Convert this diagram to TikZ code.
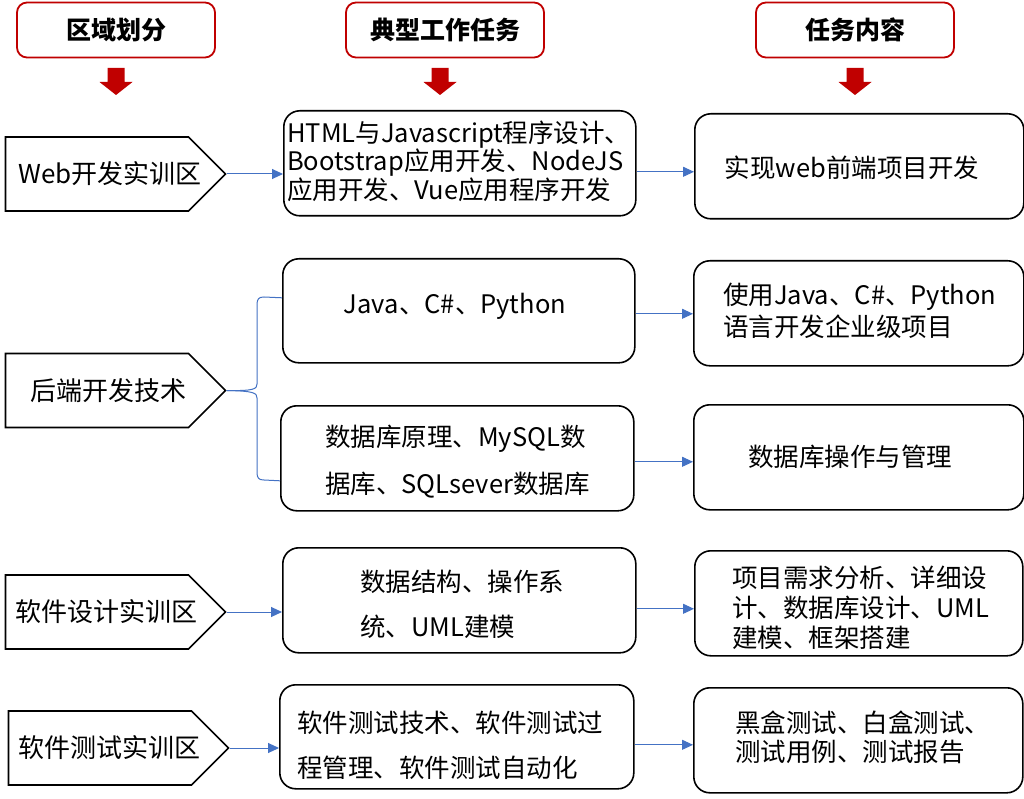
\documentclass[tikz,border=0pt]{standalone}
\usepackage{fontspec}
\setmainfont{Noto Sans CJK SC}
\usetikzlibrary{arrows.meta,shapes.symbols,calc}
\definecolor{hdred}{HTML}{C00000}
\definecolor{lnblue}{HTML}{4472C4}
\begin{document}
\begin{tikzpicture}[x=1pt,y=-1pt,
 hdr/.style={draw=hdred, line width=1.8pt, rounded corners=10pt, fill=white, minimum width=198pt, minimum height=55pt, inner sep=0pt, font=\fontsize{25}{28}\selectfont\bfseries},
 pent/.style={draw, line width=1.6pt, signal, signal to=east, signal pointer angle=90, minimum width=220pt, minimum height=74pt, inner sep=0pt},
 lbl/.style={font=\fontsize{26}{30}\selectfont, inner sep=0pt},
 box/.style={draw, line width=1.6pt, rounded corners=16pt, inner sep=0pt, anchor=north west},
 txt/.style={font=\fontsize{25.5}{29}\selectfont, inner sep=0pt, anchor=west, align=left},
 ctxt/.style={font=\fontsize{25.5}{29}\selectfont, inner sep=0pt, anchor=center, align=center},
 arr/.style={draw=lnblue, line width=1pt, -{Triangle[length=11pt,width=10pt]}},
 brace/.style={draw=lnblue, line width=1pt}
]
\useasboundingbox (0,0) rectangle (1024,799);
\fill[white] (0,0) rectangle (1024,799);

% headers
\node[hdr] (h1) at (116,30) {区域划分};
\node[hdr] (h2) at (445,30) {典型工作任务};
\node[hdr] (h3) at (855,30) {任务内容};
\foreach \cx in {116,440,855}{
  \fill[hdred] ({\cx-8.5},68) -- ({\cx+8.5},68) -- ({\cx+8.5},82) -- ({\cx+16.5},82) -- (\cx,95) -- ({\cx-16.5},82) -- ({\cx-8.5},82) -- cycle;
}

% left pentagons
\node[pent, label={[lbl, xshift=13pt]center:Web开发实训区}] (p1) at (97,174) {};
\node[pent, label={[lbl, xshift=11pt]center:后端开发技术}] (p2) at (97,390.5) {};
\node[pent, label={[lbl, xshift=9pt]center:软件设计实训区}] (p3) at (97,612) {};
\node[pent, label={[lbl, xshift=9pt]center:软件测试实训区}] (p4) at (100,748) {};

% middle boxes
\node[box, minimum width=352pt, minimum height=105pt] (m1) at (283,110) {};
\node[box, minimum width=352pt, minimum height=104pt] (m2) at (282,258) {};
\node[box, minimum width=353pt, minimum height=105pt] (m3) at (280,405) {};
\node[box, minimum width=353pt, minimum height=105pt] (m4) at (282,547) {};
\node[box, minimum width=354pt, minimum height=104pt] (m5) at (279,684) {};

\node[txt, font=\fontsize{25.5}{28.5}\selectfont] (m1t) at (287,161) {HTML与Javascript程序设计、\\Bootstrap应用开发、NodeJS\\应用开发、Vue应用程序开发};
\node[ctxt] (m2t) at (455,306) {Java、C\#、Python};
\node[txt, font=\fontsize{25.5}{47}\selectfont] (m3t) at (325,461.5) {数据库原理、MySQL数\\据库、SQLsever数据库};
\node[txt, font=\fontsize{25.5}{45}\selectfont] (m4t) at (360,604.5) {数据结构、操作系\\统、UML建模};
\node[txt, font=\fontsize{25.5}{45}\selectfont] (m5t) at (297,745.5) {软件测试技术、软件测试过\\程管理、软件测试自动化};

% right boxes
\node[box, minimum width=329pt, minimum height=105pt] (r1) at (694,113) {};
\node[box, minimum width=330pt, minimum height=105pt] (r2) at (693,260) {};
\node[box, minimum width=330pt, minimum height=105pt] (r3) at (693,404) {};
\node[box, minimum width=328pt, minimum height=105pt] (r4) at (694,550) {};
\node[box, minimum width=329pt, minimum height=105pt] (r5) at (693,687) {};

\node[ctxt] (r1t) at (852,168) {实现web前端项目开发};
\node[txt, font=\fontsize{25.5}{32}\selectfont] (r2t) at (723,311) {使用Java、C\#、Python\\语言开发企业级项目};
\node[ctxt] (r3t) at (850,457) {数据库操作与管理};
\node[txt, font=\fontsize{25.5}{30}\selectfont] (r4t) at (732,608) {项目需求分析、详细设\\计、数据库设计、UML\\建模、框架搭建};
\node[txt, font=\fontsize{25.5}{29.5}\selectfont] (r5t) at (735,737.5) {黑盒测试、白盒测试、\\测试用例、测试报告};

% connectors left -> middle
\draw[arr] (p1.east) -- (p1.east -| m1.west);
\draw[arr] (p3.east) -- (p3.east -| m4.west);
\draw[arr] (p4.east) -- (p4.east -| m5.west);

% brace for 后端开发技术
\coordinate (bt) at ($(m2.west)+(0,-13)$);
\coordinate (bb) at ($(m3.west)+(0,22.5)$);
\draw[brace] (bt) -- (264,297) .. controls (258.5,297) and (257,299) .. (257,305) -- (257,384) .. controls (257,389) and (254,391) .. (p2.east);
\draw[brace] (bb) -- (264,480) .. controls (258.5,480) and (257,478) .. (257,472) -- (257,398) .. controls (257,393) and (254,391) .. (p2.east);

% connectors middle -> right
\coordinate (a1) at ($(r1.west)+(0,5.5)$);
\coordinate (a2) at ($(r2.west)+(0,0.5)$);
\coordinate (a3) at ($(r3.west)+(0,4.5)$);
\coordinate (a4) at ($(r4.west)+(0,5.5)$);
\coordinate (a5) at ($(r5.west)+(0,4.5)$);
\draw[arr] (a1 -| m1.east) -- (a1);
\draw[arr] (a2 -| m2.east) -- (a2);
\draw[arr] (a3 -| m3.east) -- (a3);
\draw[arr] (a4 -| m4.east) -- (a4);
\draw[arr] (a5 -| m5.east) -- (a5);
\end{tikzpicture}
\end{document}
